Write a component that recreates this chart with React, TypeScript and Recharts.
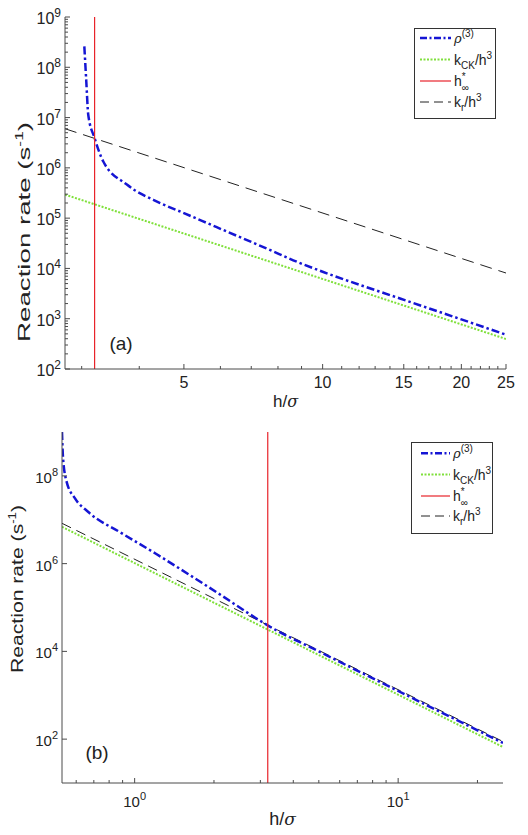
import React from "react";
import { LineChart, Line, XAxis, YAxis, ReferenceLine, Legend } from "recharts";

const FONT = '"Liberation Sans", Arial, Helvetica, sans-serif';
const AXIS = "#4a4a4a";
const INK = "#222222";
const BLUE = "#1515d4";
const GREEN = "#80e03c";
const RED = "#e8232a";
const BLACK = "#222222";

// ---- panel (a) ----
const hRhoA = [3.04, 3.07, 3.1, 3.2, 3.34, 3.76, 4.44, 5, 5.89, 7.55, 8.91, 10, 14.67, 20, 25];
const rhoA = [2.6e8, 5.2e7, 1.14e7, 3.9e6, 1.35e6, 4.65e5, 2.0e5, 1.26e5, 6.6e4, 2.5e4, 1.29e4, 8.6e3, 2.55e3, 970, 480];
const hLineA = [2.76, 25];
const kCkA = [2.94e5, 395];
const krA = [6.0e6, 8.1e3];
const hStarA = 3.2;
const xDomainA = [2.76, 25];
const yDomainA = [1e2, 1e9];
const xMajorA = [5, 10, 15, 20, 25];
const xMinorA = [3, 4, 6, 7, 8, 9, 11, 12, 13, 14, 16, 17, 18, 19, 21, 22, 23, 24];
const yMajorA = [1e2, 1e3, 1e4, 1e5, 1e6, 1e7, 1e8, 1e9];
const mantissas = [2, 3, 4, 5, 6, 7, 8, 9];

// ---- panel (b) ----
const hRhoB = [0.53, 0.535, 0.552, 0.593, 0.667, 0.895, 1.2, 1.61, 2.16, 2.7, 3.2, 5, 10, 25];
const rhoB = [1e9, 2.5e8, 7.3e7, 3.1e7, 1.5e7, 4.9e6, 1.7e6, 5.6e5, 1.8e5, 7.4e4, 3.9e4, 1.0e4, 1.25e3, 82];
const hLineB = [0.53, 25];
const kCkB = [6.9e6, 66];
const krB = [8.3e6, 88];
const hStarB = 3.2;
const xDomainB = [0.53, 25];
const yDomainB = [1e1, 1e9];
const xMajorB = [1, 10];
const xMinorB = [0.6, 0.7, 0.8, 0.9, 2, 3, 4, 5, 6, 7, 8, 9, 20];
const yMajorB = [1e2, 1e4, 1e6, 1e8];

const yMinorA = yMajorA.slice(0, -1).flatMap((d) => mantissas.map((m) => m * d));

const toPts = (hs: number[], vs: number[]) => hs.map((h, i) => ({ h, v: vs[i] }));

const isMajor = (majors: number[], v: number) => majors.some((m) => Math.abs(m - v) / m < 1e-9);

const PowLabel = ({ x, y, v, anchor, fs }: any) => (
  <text x={x} y={y} textAnchor={anchor} fontSize={fs} fill={INK} fontFamily={FONT}>
    <tspan>10</tspan>
    <tspan dy={-7} fontSize={Math.round(fs * 0.72)}>
      {Math.round(Math.log10(v))}
    </tspan>
  </text>
);

const AxisTick = (props: any) => {
  const { x, y, payload, majors, side, fmt, labelDy = 0, fs = 15 } = props;
  const v = payload.value;
  const major = isMajor(majors, v);
  const len = major ? 5 : 3;
  let seg = [x, y, x, y];
  if (side === "bottom") seg = [x, y, x, y - len];
  if (side === "top") seg = [x, y, x, y + len];
  if (side === "left") seg = [x, y, x + len, y];
  if (side === "right") seg = [x, y, x - len, y];
  let label = null;
  if (major && fmt === "plain") {
    label = (
      <text x={x} y={y + labelDy} textAnchor="middle" fontSize={fs} fill={INK} fontFamily={FONT}>
        {v}
      </text>
    );
  } else if (major && fmt === "pow" && side === "bottom") {
    label = <PowLabel x={x} y={y + labelDy} v={v} anchor="middle" fs={fs} />;
  } else if (major && fmt === "pow" && side === "left") {
    label = <PowLabel x={x - 4} y={y + 7} v={v} anchor="end" fs={fs} />;
  }
  return (
    <g>
      <line x1={seg[0]} y1={seg[1]} x2={seg[2]} y2={seg[3]} stroke={AXIS} strokeWidth={1} />
      {label}
    </g>
  );
};

const YTitle = ({ bx, cy, len, fs }: any) => (
  <text
    transform={`translate(${bx},${cy}) rotate(-90)`}
    textAnchor="middle"
    fontSize={fs}
    fill={INK}
    fontFamily={FONT}
    textLength={len}
    lengthAdjust="spacingAndGlyphs"
  >
    Reaction rate (s
    <tspan dy={-7} fontSize={Math.round(fs * 0.65)}>
      -1
    </tspan>
    <tspan dy={7}>)</tspan>
  </text>
);

const XTitle = ({ viewBox, dy, fs }: any) => {
  const vb = viewBox || { x: 0, y: 0, width: 0 };
  return (
    <text x={vb.x + vb.width / 2} y={vb.y + dy} textAnchor="middle" fontSize={fs} fill={INK} fontFamily={FONT}>
      h/<tspan fontStyle="italic" fontFamily='"DejaVu Serif", serif' fontSize={fs - 1}>σ</tspan>
    </text>
  );
};

const legendRows = [
  {
    color: BLUE,
    width: 2.5,
    dash: "7 2.5 2 2.5",
    label: (
      <>
        <tspan fontStyle="italic" fontFamily='"DejaVu Serif", serif' fontSize={13}>ρ</tspan>
        <tspan dy={-6} fontSize={10}>(3)</tspan>
      </>
    ),
  },
  {
    color: GREEN,
    width: 2,
    dash: "2 1.5",
    label: (
      <>
        k<tspan dy={4} fontSize={10}>CK</tspan>
        <tspan dy={-4}>/h</tspan>
        <tspan dy={-6} fontSize={10}>3</tspan>
      </>
    ),
  },
  {
    color: RED,
    width: 1.2,
    dash: undefined,
    label: (
      <>
        h<tspan dy={-6} fontSize={10}>*</tspan>
        <tspan dx={-4} dy={11} fontSize={10}>∞</tspan>
      </>
    ),
  },
  {
    color: BLACK,
    width: 1,
    dash: "9 5",
    label: (
      <>
        k<tspan dy={4} fontSize={10}>r</tspan>
        <tspan dy={-4}>/h</tspan>
        <tspan dy={-6} fontSize={10}>3</tspan>
      </>
    ),
  },
];

const LegendBox = ({ w, h, rowY, sx0, sx1, tx }: any) => (
  <svg width={w} height={h} style={{ display: "block" }}>
    <rect x={0.5} y={0.5} width={w - 1} height={h - 1} fill="#fff" stroke="#333" strokeWidth={1} />
    {legendRows.map((r, i) => (
      <g key={i}>
        <line x1={sx0} x2={sx1} y1={rowY[i]} y2={rowY[i]} stroke={r.color} strokeWidth={r.width} strokeDasharray={r.dash} />
        <text x={tx} y={rowY[i] + 5} fontSize={14} fill={INK} fontFamily={FONT}>
          {r.label}
        </text>
      </g>
    ))}
  </svg>
);

const PanelA = () => {
  const xTicks = [...xMinorA, ...xMajorA].sort((a, b) => a - b);
  const yTicks = [...yMinorA, ...yMajorA].sort((a, b) => a - b);
  return (
    <LineChart width={528} height={410} margin={{ top: 17, right: 22, bottom: 0, left: 0 }}>
      <XAxis
        dataKey="h"
        type="number"
        scale="log"
        domain={xDomainA}
        allowDataOverflow
        ticks={xTicks}
        interval={0}
        height={41}
        tickSize={0}
        tickMargin={0}
        tickLine={false}
        axisLine={{ stroke: AXIS }}
        tick={<AxisTick majors={xMajorA} side="bottom" fmt="plain" labelDy={19} fs={16} />}
        label={<XTitle dy={38} fs={17} />}
      />
      <XAxis
        xAxisId="top"
        orientation="top"
        type="number"
        scale="log"
        domain={xDomainA}
        allowDataOverflow
        ticks={xTicks}
        interval={0}
        height={0}
        tickSize={0}
        tickMargin={0}
        tickLine={false}
        axisLine={{ stroke: AXIS }}
        tick={<AxisTick majors={xMajorA} side="top" />}
      />
      <YAxis
        type="number"
        scale="log"
        domain={yDomainA}
        allowDataOverflow
        ticks={yTicks}
        interval={0}
        width={65}
        tickSize={0}
        tickMargin={0}
        tickLine={false}
        axisLine={{ stroke: AXIS }}
        tick={<AxisTick majors={yMajorA} side="left" fmt="pow" fs={16} />}
        label={<YTitle bx={30} cy={232} len={220} fs={16} />}
      />
      <YAxis
        yAxisId="right"
        orientation="right"
        type="number"
        scale="log"
        domain={yDomainA}
        allowDataOverflow
        ticks={yTicks}
        interval={0}
        width={0}
        tickSize={0}
        tickMargin={0}
        tickLine={false}
        axisLine={{ stroke: AXIS }}
        tick={<AxisTick majors={yMajorA} side="right" />}
      />
      <Line data={toPts(hLineA, kCkA)} dataKey="v" stroke={GREEN} strokeWidth={2} strokeDasharray="2 1.5" dot={false} isAnimationActive={false} />
      <Line data={toPts(hLineA, krA)} dataKey="v" stroke={BLACK} strokeWidth={1} strokeDasharray="12 7" dot={false} isAnimationActive={false} />
      <Line data={toPts(hRhoA, rhoA)} dataKey="v" type="monotone" stroke={BLUE} strokeWidth={2.5} strokeDasharray="8 3 2.5 3" dot={false} isAnimationActive={false} />
      <ReferenceLine x={hStarA} stroke={RED} strokeWidth={1.2} />
      <Legend
        layout="vertical"
        align="center"
        verticalAlign="middle"
        wrapperStyle={{ left: 414, top: 27.5, width: 82, height: 91 }}
        content={() => <LegendBox w={82} h={91} rowY={[10, 31.5, 53, 74]} sx0={6} sx1={37} tx={40} />}
      />
    </LineChart>
  );
};

const PanelB = () => {
  const xTicks = [...xMinorB, ...xMajorB].sort((a, b) => a - b);
  return (
    <LineChart width={528} height={425} margin={{ top: 22, right: 25, bottom: 0, left: 0 }}>
      <XAxis
        dataKey="h"
        type="number"
        scale="log"
        domain={xDomainB}
        allowDataOverflow
        ticks={xTicks}
        interval={0}
        height={52}
        tickSize={0}
        tickMargin={0}
        tickLine={false}
        axisLine={{ stroke: AXIS }}
        tick={<AxisTick majors={xMajorB} side="bottom" fmt="pow" labelDy={24} fs={15} />}
        label={<XTitle dy={42} fs={18} />}
      />
      <XAxis
        xAxisId="top"
        orientation="top"
        type="number"
        scale="log"
        domain={xDomainB}
        allowDataOverflow
        ticks={xTicks}
        interval={0}
        height={0}
        tickSize={0}
        tickMargin={0}
        tickLine={false}
        axisLine={{ stroke: AXIS }}
        tick={<AxisTick majors={xMajorB} side="top" />}
      />
      <YAxis
        type="number"
        scale="log"
        domain={yDomainB}
        allowDataOverflow
        ticks={yMajorB}
        interval={0}
        width={62}
        tickSize={0}
        tickMargin={0}
        tickLine={false}
        axisLine={{ stroke: AXIS }}
        tick={<AxisTick majors={yMajorB} side="left" fmt="pow" fs={15} />}
        label={<YTitle bx={23} cy={179} len={168} fs={16} />}
      />
      <YAxis
        yAxisId="right"
        orientation="right"
        type="number"
        scale="log"
        domain={yDomainB}
        allowDataOverflow
        ticks={yMajorB}
        interval={0}
        width={0}
        tickSize={0}
        tickMargin={0}
        tickLine={false}
        axisLine={{ stroke: AXIS }}
        tick={<AxisTick majors={yMajorB} side="right" />}
      />
      <Line data={toPts(hLineB, kCkB)} dataKey="v" stroke={GREEN} strokeWidth={2} strokeDasharray="2 1.5" dot={false} isAnimationActive={false} />
      <Line data={toPts(hLineB, krB)} dataKey="v" stroke={BLACK} strokeWidth={1} strokeDasharray="10 6" dot={false} isAnimationActive={false} />
      <Line data={toPts(hRhoB, rhoB)} dataKey="v" type="monotone" stroke={BLUE} strokeWidth={2.5} strokeDasharray="8 3 2.5 3" dot={false} isAnimationActive={false} />
      <ReferenceLine x={hStarB} stroke={RED} strokeWidth={1.2} />
      <Legend
        layout="vertical"
        align="center"
        verticalAlign="middle"
        wrapperStyle={{ left: 411, top: 31.5, width: 82, height: 92 }}
        content={() => <LegendBox w={82} h={92} rowY={[11.3, 32.6, 54, 74]} sx0={10} sx1={39} tx={42} />}
      />
    </LineChart>
  );
};

const tag = (text: string, cx: number, cy: number) => (
  <div
    style={{
      position: "absolute",
      left: cx,
      top: cy,
      transform: "translate(-50%, -50%)",
      fontSize: 19,
      fontFamily: FONT,
      color: INK,
      lineHeight: 1,
    }}
  >
    {text}
  </div>
);

const App = () => (
  <div style={{ position: "absolute", left: 0, top: 0, width: 528, height: 835, background: "#fff", fontFamily: FONT }}>
    <div style={{ position: "absolute", left: 0, top: 0 }}>
      <PanelA />
    </div>
    <div style={{ position: "absolute", left: 0, top: 410 }}>
      <PanelB />
    </div>
    {tag("(a)", 121, 343)}
    {tag("(b)", 97, 752)}
  </div>
);

export default App;
